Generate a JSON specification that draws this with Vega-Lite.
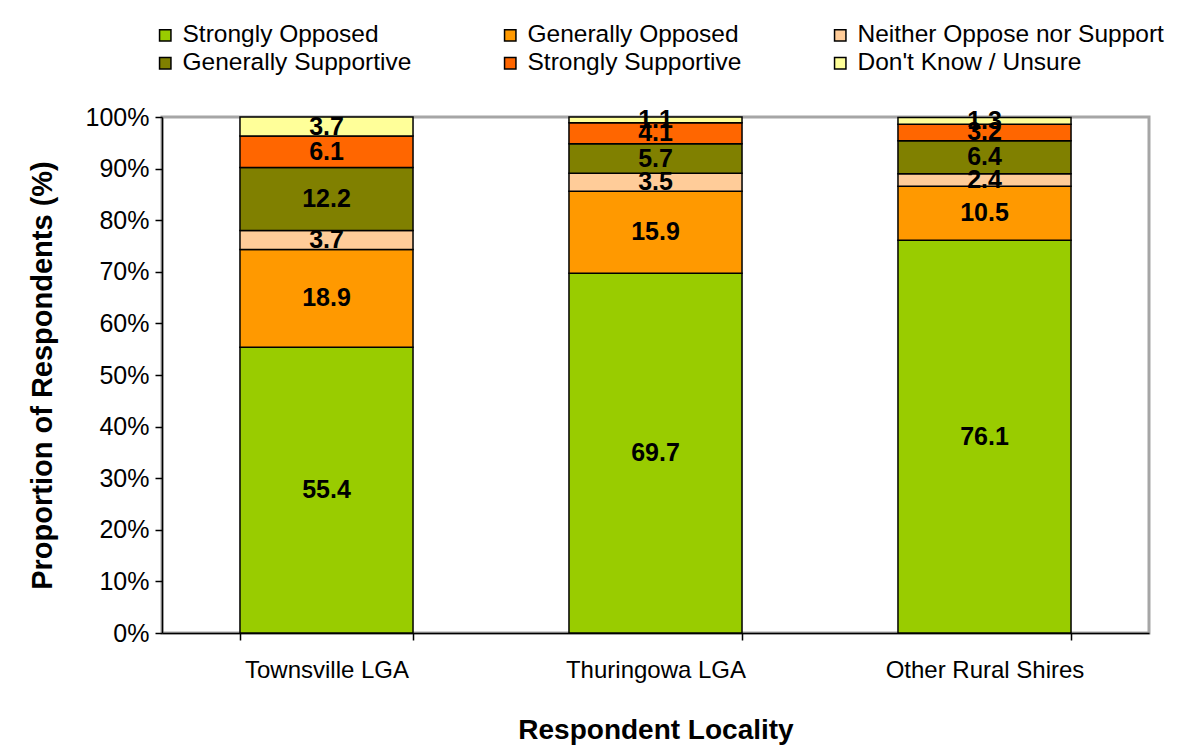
{
  "$schema": "https://vega.github.io/schema/vega-lite/v6.json",
  "width": 987,
  "height": 516,
  "autosize": {"type": "none"},
  "padding": {"left": 162, "top": 117, "right": 31, "bottom": 123},
  "background": "white",
  "config": {
    "font": "Liberation Sans",
    "view": {"stroke": "#a6a6a6", "strokeWidth": 3},
    "axis": {"labelFont": "Liberation Sans", "titleFont": "Liberation Sans", "labelColor": "black", "titleColor": "black", "domainColor": "black", "tickColor": "black", "domainWidth": 1.5, "tickWidth": 1.5, "grid": false}
  },
  "data": {
    "values": [
      {"locality": "Townsville LGA", "category": "Strongly Opposed", "value": 55.4},
      {"locality": "Townsville LGA", "category": "Generally Opposed", "value": 18.9},
      {"locality": "Townsville LGA", "category": "Neither Oppose nor Support", "value": 3.7},
      {"locality": "Townsville LGA", "category": "Generally Supportive", "value": 12.2},
      {"locality": "Townsville LGA", "category": "Strongly Supportive", "value": 6.1},
      {"locality": "Townsville LGA", "category": "Don't Know / Unsure", "value": 3.7},
      {"locality": "Thuringowa LGA", "category": "Strongly Opposed", "value": 69.7},
      {"locality": "Thuringowa LGA", "category": "Generally Opposed", "value": 15.9},
      {"locality": "Thuringowa LGA", "category": "Neither Oppose nor Support", "value": 3.5},
      {"locality": "Thuringowa LGA", "category": "Generally Supportive", "value": 5.7},
      {"locality": "Thuringowa LGA", "category": "Strongly Supportive", "value": 4.1},
      {"locality": "Thuringowa LGA", "category": "Don't Know / Unsure", "value": 1.1},
      {"locality": "Other Rural Shires", "category": "Strongly Opposed", "value": 76.1},
      {"locality": "Other Rural Shires", "category": "Generally Opposed", "value": 10.5},
      {"locality": "Other Rural Shires", "category": "Neither Oppose nor Support", "value": 2.4},
      {"locality": "Other Rural Shires", "category": "Generally Supportive", "value": 6.4},
      {"locality": "Other Rural Shires", "category": "Strongly Supportive", "value": 3.2},
      {"locality": "Other Rural Shires", "category": "Don't Know / Unsure", "value": 1.3}
    ]
  },
  "transform": [
    {"calculate": "indexof(['Strongly Opposed','Generally Opposed','Neither Oppose nor Support','Generally Supportive','Strongly Supportive',\"Don't Know / Unsure\"], datum.category)", "as": "ord"},
    {"stack": "value", "groupby": ["locality"], "sort": [{"field": "ord", "order": "ascending"}], "as": ["v0", "v1"]},
    {"calculate": "(datum.v0 + datum.v1) / 2", "as": "mid"}
  ],
  "encoding": {
    "x": {
      "field": "locality",
      "type": "nominal",
      "sort": ["Townsville LGA", "Thuringowa LGA", "Other Rural Shires"],
      "scale": {"paddingInner": 0.474, "paddingOuter": 0.237},
      "axis": {"title": "Respondent Locality", "labelAngle": 0, "labelLimit": 400, "tickBand": "extent", "tickSize": 7, "labelFontSize": 24, "labelPadding": 18, "titleFontSize": 28, "titleFontWeight": "bold", "titlePadding": 34}
    }
  },
  "layer": [
    {
      "mark": {"type": "bar", "stroke": "black", "strokeWidth": 1.5},
      "encoding": {
        "y": {
          "field": "v0",
          "type": "quantitative",
          "scale": {"domain": [0, 100], "nice": false},
          "axis": {"title": "Proportion of Respondents (%)", "values": [0, 10, 20, 30, 40, 50, 60, 70, 80, 90, 100], "labelExpr": "datum.value + '%'", "tickSize": 7, "labelFontSize": 25, "labelPadding": 6, "titleFontSize": 29, "titleFontWeight": "bold", "titlePadding": 28}
        },
        "y2": {"field": "v1"},
        "color": {
          "field": "category",
          "type": "nominal",
          "scale": {
            "domain": ["Strongly Opposed", "Generally Opposed", "Neither Oppose nor Support", "Generally Supportive", "Strongly Supportive", "Don't Know / Unsure"],
            "range": ["#99cc00", "#ff9900", "#ffcc99", "#808000", "#ff6600", "#ffff99"]
          },
          "legend": {
            "title": null,
            "orient": "none",
            "legendX": -9,
            "legendY": -94,
            "direction": "horizontal",
            "columns": 3,
            "symbolType": "square",
            "symbolSize": 130,
            "symbolStrokeColor": "black",
            "symbolStrokeWidth": 1.5,
            "labelFontSize": 24.5,
            "labelFont": "Liberation Sans",
            "labelColor": "black",
            "labelLimit": 400,
            "columnPadding": 86,
            "rowPadding": 3,
            "labelOffset": 5
          }
        }
      }
    },
    {
      "mark": {"type": "text", "fontSize": 25, "fontWeight": "bold", "color": "black", "font": "Liberation Sans"},
      "encoding": {
        "y": {"field": "mid", "type": "quantitative", "scale": {"domain": [0, 100], "nice": false}},
        "text": {"field": "value", "type": "quantitative", "format": ".1f"}
      }
    }
  ]
}
